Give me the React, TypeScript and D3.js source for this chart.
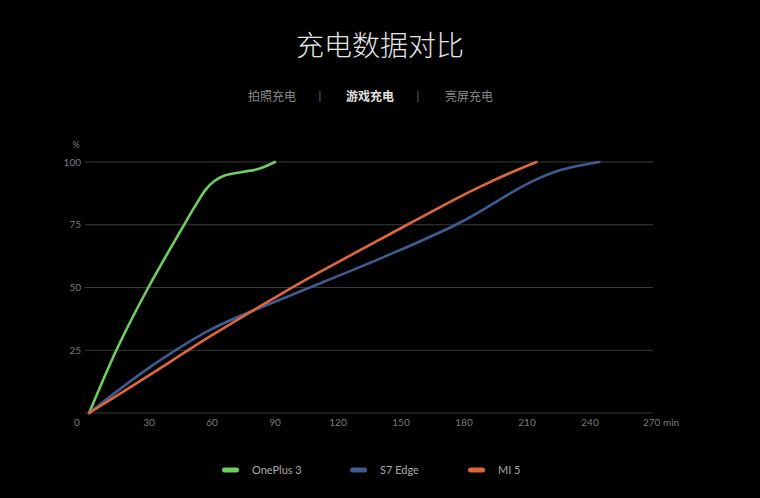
import React from "react";
import * as d3 from "d3";

const W = 760;
const H = 498;

const xTicks = [0, 30, 60, 90, 120, 150, 180, 210, 240, 270];
const yTicks = [25, 50, 75, 100];

const onePlusMin = [1.5, 15, 30, 45, 52, 57, 61, 66, 75, 82, 90];
const onePlusPct = [0, 26, 50.5, 72.5, 82.5, 89, 92.3, 94.6, 96.1, 97.2, 100];

const s7Min = [1.5, 30, 60, 92, 140, 178, 203, 213, 226, 244.5];
const s7Pct = [0, 18, 33.5, 45, 61.5, 75.8, 88, 92.5, 96.8, 100];

const mi5Min = [1.5, 30, 60, 92, 111, 153, 180, 188, 203, 214.5];
const mi5Pct = [0, 15, 31, 47, 56, 75, 87, 90.3, 96, 100];

const seriesNames = ["OnePlus 3", "S7 Edge", "MI 5"];
const seriesColors = ["#6ccf5f", "#3e5b92", "#e0663b"];
const tabs = ["拍照充电", "游戏充电", "亮屏充电"];

const x = d3.scaleLinear().domain([0, 270]).range([86, 653]);
const y = d3.scaleLinear().domain([0, 100]).range([413, 162]);

const line = d3
  .line<[number, number]>()
  .x((d) => x(d[0]))
  .y((d) => y(d[1]))
  .curve(d3.curveCatmullRom.alpha(0.5));

const zip = (a: number[], b: number[]) => a.map((v, i) => [v, b[i]] as [number, number]);
const series = [zip(onePlusMin, onePlusPct), zip(s7Min, s7Pct), zip(mi5Min, mi5Pct)];

const latin = "Lato, 'Noto Sans', sans-serif";
const cjk = "'Noto Sans CJK SC', sans-serif";

export default function App() {
  const tabX = [272, 370, 469];
  const legX = [222, 350, 468];
  return (
    <svg
      width={W}
      height={H}
      style={{ position: "absolute", left: 0, top: 0, display: "block", background: "#000" }}
    >
      <rect x={0} y={0} width={W} height={H} fill="#000" />
      <text x={380} y={56} textAnchor="middle" fill="#e6e6e6" fontSize={28} fontWeight={300} fontFamily={cjk}>
        充电数据对比
      </text>
      {tabs.map((t, i) => (
        <text
          key={t}
          x={tabX[i]}
          y={101}
          textAnchor="middle"
          fill={i === 1 ? "#e0e0e0" : "#8a8a8a"}
          fontSize={12}
          fontWeight={i === 1 ? 700 : 400}
          fontFamily={cjk}
        >
          {t}
        </text>
      ))}
      {[320, 418].map((sx) => (
        <text key={sx} x={sx} y={100} textAnchor="middle" fill="#777" fontSize={11} fontFamily={latin}>
          |
        </text>
      ))}
      <text x={76} y={148} textAnchor="middle" fill="#7a7a7a" fontSize={9} fontFamily={latin}>
        %
      </text>
      {[0, ...yTicks].map((t) => (
        <line key={t} x1={85} x2={653} y1={y(t)} y2={y(t)} stroke="#3a3a3a" strokeWidth={1} />
      ))}
      {yTicks.map((t) => (
        <text key={t} x={81} y={y(t) + 3.5} textAnchor="end" fill="#7a7a7a" fontSize={10} fontFamily={latin}>
          {t}
        </text>
      ))}
      {xTicks.map((t) => (
        <text
          key={t}
          x={t === 0 ? 77 : t === 270 ? x(t) - 10 : x(t)}
          y={426}
          textAnchor={t === 270 ? "start" : "middle"}
          fill="#7a7a7a"
          fontSize={10}
          fontFamily={latin}
        >
          {t === 270 ? "270 min" : t}
        </text>
      ))}
      {series.map((s, i) => (
        <path
          key={i}
          d={line(s) || ""}
          fill="none"
          stroke={seriesColors[i]}
          strokeWidth={2.6}
          strokeLinecap="round"
        />
      ))}
      {seriesNames.map((n, i) => (
        <g key={n}>
          <rect x={legX[i]} y={467.5} width={17} height={5} rx={2.5} fill={seriesColors[i]} />
          <text x={legX[i] + 30} y={474} fill="#a8a8a8" fontSize={11} fontFamily={latin}>
            {n}
          </text>
        </g>
      ))}
    </svg>
  );
}
